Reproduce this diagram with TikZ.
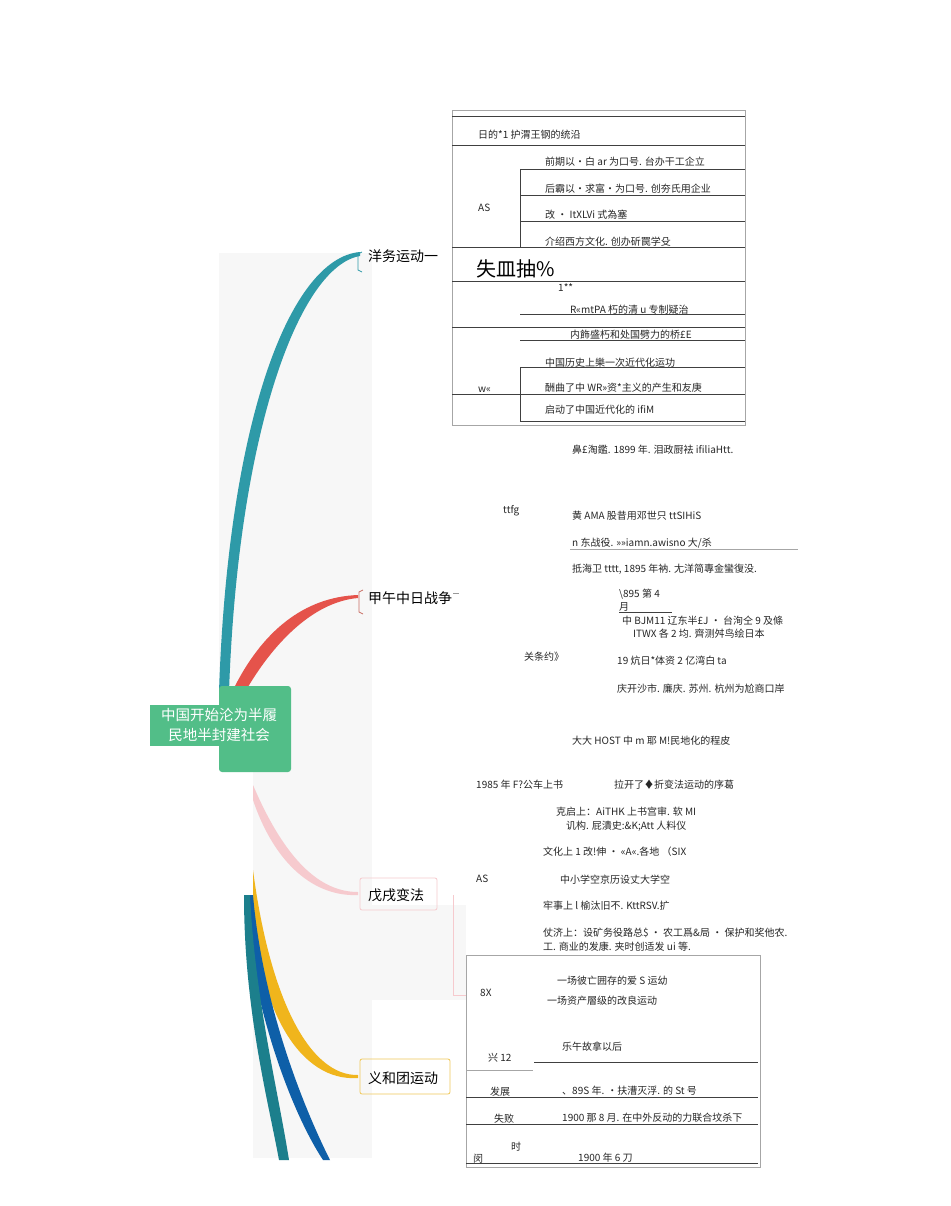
\documentclass[tikz,border=0pt]{standalone}
\usepackage{fontspec}
\setmainfont{Liberation Sans}
\newfontfamily\cjk{Noto Sans CJK SC}
\begin{document}
\begin{tikzpicture}[x=1pt,y=-1pt,
  tx/.style={anchor=base west,inner sep=0pt,font=\cjk\fontsize{10}{11}\selectfont,text=black!85},
  lab/.style={anchor=base west,inner sep=0pt,font=\cjk\fontsize{14}{15}\selectfont},
  rl/.style={draw=black!75,line width=0.6pt},
  gl/.style={draw=black!35,line width=0.6pt}]
\useasboundingbox (0,0) rectangle (950,1206);
\fill[white] (0,0) rectangle (950,1206);
% gray panels
\fill[black!3] (219,253) rectangle (372,740);
\fill[black!3] (253,740) rectangle (372,1158);
\fill[black!3] (372,905) rectangle (466,1000);
% branches
\fill[color={rgb,255:red,46;green,154;blue,168}] (219,692) .. controls (228,420) and (290,258) .. (360,252) -- (360,256) .. controls (300,266) and (238,430) .. (229,692) -- cycle;
\fill[color={rgb,255:red,229;green,83;blue,75}] (232,692) .. controls (262,630) and (305,597) .. (358,595) -- (358,598) .. controls (312,602) and (272,645) .. (245,692) -- cycle;
\fill[color={rgb,255:red,246;green,202;blue,206}] (253,785) .. controls (285,860) and (320,892) .. (358,892) -- (358,895) .. controls (315,897) and (275,865) .. (253,800) -- cycle;
\fill[color={rgb,255:red,240;green,181;blue,28}] (253,870) .. controls (270,1000) and (310,1076) .. (358,1075) -- (358,1078) .. controls (300,1082) and (258,1010) .. (253,905) -- cycle;
\fill[color={rgb,255:red,14;green,95;blue,168}] (244,895) .. controls (250,1000) and (290,1110) .. (323,1160) -- (330,1160) .. controls (300,1100) and (262,1000) .. (253,895) -- cycle;
\fill[color={rgb,255:red,28;green,127;blue,140}] (244,895) .. controls (244,1010) and (268,1100) .. (279,1160) -- (289,1160) .. controls (278,1090) and (255,1000) .. (250,895) -- cycle;
% root
\fill[color={rgb,255:red,82;green,190;blue,136},rounded corners=3pt] (219,686) rectangle (291,772);
\fill[color={rgb,255:red,82;green,190;blue,136}] (150,705) rectangle (253,746);
\node[anchor=center,align=center,text=white,font=\cjk\fontsize{14.5}{20}\selectfont] (root) at (219,725) {中国开始沦为半履\\民地半封建社会};
% brackets
\draw[draw={rgb,255:red,46;green,154;blue,168},line width=0.8pt] (362,252) -- (358,254) -- (358,270) -- (362,272);
\draw[draw={rgb,255:red,200;green,110;blue,100},line width=0.8pt] (363,590) -- (359,592) -- (359,612) -- (363,614);
\draw[draw={rgb,255:red,246;green,202;blue,206},line width=0.8pt,rounded corners=2pt] (360,878) rectangle (437,910);
\draw[draw={rgb,255:red,240;green,200;blue,90},line width=0.8pt,rounded corners=2pt] (360,1059) rectangle (450,1094);
\draw[draw={rgb,255:red,246;green,202;blue,206},line width=0.8pt] (453,895) -- (453,995) -- (466,995);
\node[lab] (n1) at (368,261) {洋务运动一};
\node[lab] (n2) at (368,603) {甲午中日战争};
\draw[draw=black!40] (n2.east) ++(1,-4) -- ++(6,0);
\node[lab] (n3) at (368,900) {戊戌变法};
\node[lab] (n4) at (368,1083) {义和团运动};
% table 1
\draw[gl] (452,110) rectangle (745,425);
\draw[rl] (452,116) -- (745,116) (452,145) -- (745,145) (520,169) -- (745,169) (520,195) -- (745,195) (520,221) -- (745,221) (520,169) -- (520,247)
 (452,247) -- (745,247) (452,281) -- (745,281) (520,314) -- (745,314) (452,327) -- (745,327) (520,340) -- (745,340) (520,367) -- (745,367) (520,367) -- (520,421) (452,394) -- (745,394) (520,421) -- (745,421);
\node[tx] (a1) at (478,139) {日的*1 护渭王钢的统沿};
\node[tx] (a2) at (545,166) {前期以•白 ar 为口号. 台办干工企立};
\node[tx] (a3) at (545,193) {后霸以•求富•为口号. 创夯氏用企业};
\node[tx] (a4) at (478,212) {AS};
\node[tx] (a5) at (545,219) {改 · \textit{ItXLVi} 式為塞};
\node[tx] (a6) at (545,246) {介绍西方文化. 创办斫罠学殳};
\node[anchor=base west,inner sep=0pt,font=\cjk\fontsize{20}{21}\selectfont] (a7) at (476,276) {失皿抽\%};
\node[tx] (a8) at (558,291) {1**};
\node[tx] (a9) at (570,313) {R«mtPA 朽的清 u 专制疑治};
\node[tx] (a10) at (570,338) {内飾盛朽和处国劈力的桥£E};
\node[tx] (a11) at (545,366) {中国历史上樂一次近代化运功};
\node[tx] (a12) at (478,392) {w«};
\node[tx] (a13) at (545,391) {酬曲了中 WR»资*主义的产生和友庚};
\node[tx] (a14) at (545,413) {启动了中国近代化的 ifiM};
\node[tx] (a15) at (572,453) {鼻£淘鑑. 1899 年. 泪政厨袪 ifiliaHtt.};
% jiawu
\node[tx] (b1) at (503,513) {ttfg};
\node[tx] (b2) at (572,519) {黄 \textit{AMA} 股昔用邓世只 ttSIHiS};
\node[tx] (b3) at (572,546) {n 东战役. »»iamn.awisno 大/杀};
\draw[gl] (570,549) -- (798,549);
\node[tx] (b4) at (572,572) {抵海卫 tttt, 1895 年衲. 尢洋简專金蠻復没.};
\node[tx] (b5) at (619,597) {\textbackslash 895 第 4};
\node[tx] (b6) at (619,610) {月};
\draw[rl] (619,612) -- (672,612);
\node[tx] (b7) at (622,624) {中 BJM11 辽东半£J · 台洵仝 9 及條};
\node[tx] (b8) at (633,637) {ITWX 各 2 均. 齊测舛鸟绘日本};
\node[tx] (b9) at (524,660) {关条约》};
\node[tx] (b10) at (617,664) {19 炕日*体资 2 亿湾白 ta};
\node[tx] (b11) at (617,692) {庆开沙市. 廉庆. 苏州. 杭州为尬商口岸};
\node[tx] (b12) at (572,744) {大大 HOST 中 m 耶 M!民地化的程皮};
% wuxu
\node[tx] (c1) at (476,788) {1985 年 F?公车上书};
\node[tx] (c2) at (614,788) {拉开了♦折变法运动的序葛};
\node[tx] (c3) at (556,815) {克启上：AiTHK 上书宫审. 软 MI};
\node[tx] (c4) at (566,829) {讥构. 屁潰史:\&K;Att 人料仪};
\node[tx] (c5) at (543,855) {文化上 1 改!伸 · «A«.各地 （SIX};
\node[tx] (c6) at (476,882) {AS};
\node[tx] (c7) at (560,883) {中小学空京历设丈大学空};
\node[tx] (c8) at (543,909) {牢事上 l 榆汰旧不. KttRSV.扩};
\node[tx] (c9) at (543,936) {仗济上：设矿务役路总\$ · 农工爲\&局 · 保护和奖他农.};
\node[tx] (c10) at (543,950) {工. 商业的发康. 夹时创适发 ui 等.};
% boxer table
\fill[white] (466,955) rectangle (760,1167);
\draw[gl] (466,955) rectangle (760,1167);
\draw[gl] (466,1070) -- (533,1070);
\draw[rl] (534,1062) -- (758,1062) (466,1097) -- (758,1097) (466,1124) -- (758,1124) (466,1163) -- (758,1163);
\node[tx] (d1) at (557,984) {一场彼亡囲存的爱 S 运幼};
\node[tx] (d2) at (480,996) {8X};
\node[tx] (d3) at (547,1004) {一场资产層级的改良运动};
\node[tx] (d4) at (562,1050) {乐午故拿以后};
\node[tx] (d5) at (488,1061) {兴 12};
\node[tx] (d6) at (490,1095) {发展};
\node[tx] (d7) at (562,1094) {、89S 年. •扶漕灭浮. 的 St 号};
\node[tx] (d8) at (494,1122) {失败};
\node[tx] (d9) at (562,1121) {1900 那 8 月. 在中外\textit{反动的}力联合坟杀下};
\node[tx] (d10) at (511,1150) {时};
\node[tx] (d11) at (473,1162) {闵};
\node[tx] (d12) at (578,1161) {1900 年 6 刀};
\end{tikzpicture}
\end{document}
